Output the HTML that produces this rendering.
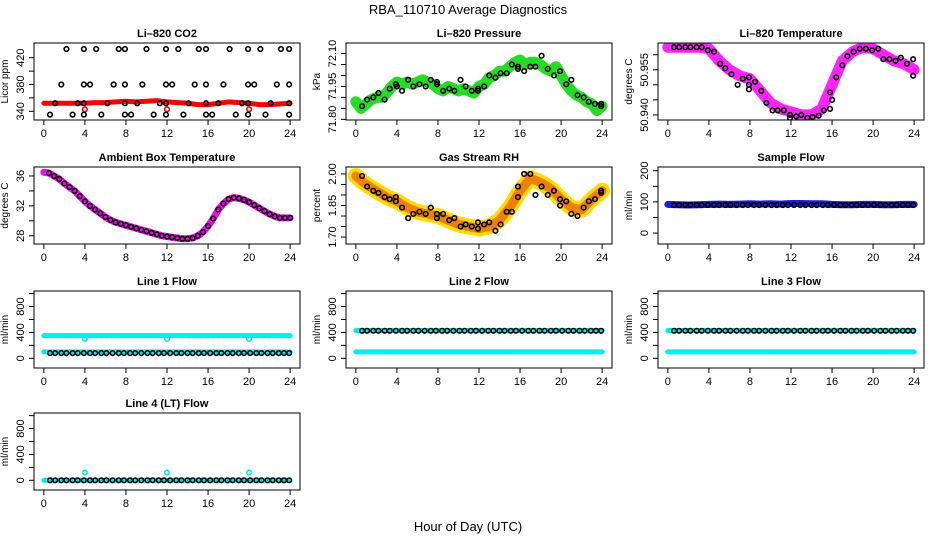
<!DOCTYPE html>
<html><head><meta charset="utf-8">
<style>
html,body{margin:0;padding:0;background:#fff;}
svg{display:block;font-family:"Liberation Sans",sans-serif;}
</style></head>
<body>
<svg id="chart" width="936" height="540" viewBox="0 0 936 540">
<text x="468" y="14" text-anchor="middle" font-size="13">RBA_110710  Average Diagnostics</text>
<text x="468" y="531" text-anchor="middle" font-size="13">Hour of Day (UTC)</text>
</svg>
<script>
// ---- data ----
const hourTicks = [0,4,8,12,16,20,24];
const hourly = [0,1,2,3,4,5,6,7,8,9,10,11,12,13,14,15,16,17,18,19,20,21,22,23,24];
const blackHours = [0.6,1.1,1.7,2.2,2.8,3.3,3.9,4.5,5.0,5.6,6.1,6.7,7.3,7.8,8.4,8.9,9.5,10.1,10.6,11.2,11.7,12.3,12.9,13.4,14.0,14.5,15.1,15.6,16.2,16.8,17.3,17.9,18.4,19.0,19.5,20.1,20.7,21.2,21.8,22.3,22.9,23.4,23.9];

const co2Band = [352,352,352,352,352,353,353,354,355,354,355,356,354,353,352,350,350,352,354,353,352,350,350,351,352];
const co2TopHours = [2.2,3.9,5.1,7.3,7.9,10.0,11.9,13.1,15.1,15.8,18.1,19.9,21.1,23.1,23.9];
const co2MidHours = [1.7,3.9,4.5,6.8,7.9,9.6,11.9,12.5,14.7,15.8,17.5,19.9,20.5,22.7,23.9];
const co2LowHours = [1.1,3.3,3.9,6.2,7.9,9.1,11.3,11.9,14.1,15.8,17.0,19.3,19.9,22.1,23.9];
const co2BotHours = [0.6,2.8,3.9,5.6,7.9,8.5,10.7,11.9,13.6,15.8,16.4,18.7,19.9,21.6,23.9];
const co2Levels = [433,380,352,335];
const co2RedHours = [4,12,20];
const co2RedValue = 343;

const presHalf = [0,0.5,1,1.5,2,2.5,3,3.5,4,4.5,5,5.5,6,6.5,7,7.5,8,8.5,9,9.5,10,10.5,11,11.5,12,12.5,13,13.5,14,14.5,15,15.5,16,16.5,17,17.5,18,18.5,19,19.5,20,20.5,21,21.5,22,22.5,23,23.5,24];
const presBand = [71.88,71.85,71.87,71.89,71.9,71.9,71.92,71.95,71.97,71.96,71.97,71.96,71.97,71.98,71.97,71.96,71.94,71.93,71.95,71.94,71.93,71.94,71.93,71.92,71.95,71.96,71.99,72.0,72.02,72.02,72.04,72.06,72.07,72.05,72.06,72.06,72.05,72.03,72.02,72.04,72.0,71.96,71.93,71.91,71.9,71.88,71.87,71.84,71.86];
const presPtHours = [0.6,1.1,1.7,2.2,2.8,3.3,3.9,4.0,4.5,5.1,5.6,6.2,6.8,7.3,7.9,7.9,8.5,9.1,9.6,10.2,10.7,11.3,11.9,11.9,12.5,13.0,13.6,14.1,14.7,15.2,15.8,15.8,16.4,17.0,17.5,18.1,18.7,19.3,19.9,20.5,21.0,21.6,22.2,22.7,23.3,23.9,23.9];
const presPts = [71.86,71.89,71.9,71.92,71.89,71.94,71.96,71.95,71.93,71.98,71.95,71.96,71.95,71.98,71.96,71.97,71.93,71.94,71.93,71.98,71.95,71.93,71.93,71.94,71.95,72.0,71.99,72.01,72.01,72.05,72.04,72.03,72.02,72.04,72.04,72.09,72.03,72.0,72.02,71.96,71.98,71.91,71.9,71.88,71.87,71.86,71.87];

const tempBand = [50.9625,50.9625,50.9625,50.9625,50.962,50.958,50.955,50.953,50.952,50.948,50.944,50.942,50.941,50.940,50.940,50.942,50.950,50.958,50.961,50.9625,50.962,50.960,50.958,50.957,50.955];
const tempPtHours = [0.6,1.1,1.7,2.2,2.8,3.3,3.9,4.5,5.1,5.6,6.2,6.8,7.3,7.9,7.9,7.9,8.5,9.1,9.6,10.2,10.7,11.3,11.9,11.9,12.5,13.0,13.6,14.1,14.7,15.2,15.8,15.8,16.0,16.4,17.0,17.5,18.1,18.7,19.3,19.9,20.5,21.0,21.6,22.2,22.7,23.3,23.9,23.9];
const tempPts = [50.9625,50.9625,50.9625,50.9625,50.9625,50.9625,50.9615,50.961,50.957,50.9555,50.9535,50.950,50.952,50.9525,50.9485,50.950,50.951,50.948,50.944,50.9415,50.9415,50.9415,50.940,50.939,50.9395,50.940,50.939,50.9393,50.9397,50.9415,50.942,50.9475,50.945,50.9525,50.9565,50.9595,50.961,50.962,50.962,50.9615,50.962,50.9585,50.9585,50.958,50.959,50.957,50.9585,50.953];

const ambHalf = presHalf;
const ambVals = [36.5,36.4,36.0,35.6,35.0,34.5,34.0,33.3,32.6,32.0,31.5,31.0,30.5,30.1,29.8,29.6,29.4,29.2,29.0,28.8,28.6,28.4,28.2,28.0,27.9,27.8,27.7,27.6,27.6,27.7,28.0,28.5,29.3,30.3,31.5,32.3,32.9,33.1,33.0,32.8,32.5,32.1,31.7,31.3,30.9,30.6,30.4,30.4,30.4];

const rhBand = [1.99,1.95,1.92,1.89,1.87,1.84,1.82,1.81,1.80,1.78,1.76,1.75,1.74,1.75,1.78,1.84,1.92,1.98,1.96,1.93,1.88,1.84,1.83,1.88,1.92];
const rhPtHours = [0.6,1.1,1.7,2.2,2.8,3.3,3.9,3.9,4.5,5.1,5.6,6.2,6.8,7.3,7.9,7.9,8.5,9.1,9.6,10.2,10.7,11.3,11.9,11.9,12.5,13.0,13.6,14.1,14.7,15.2,15.8,15.8,16.4,17.0,17.5,18.1,18.7,19.3,19.9,19.9,20.5,21.0,21.6,22.2,22.7,23.3,23.9,23.9];
const rhPts = [1.99,1.94,1.92,1.91,1.89,1.88,1.87,1.89,1.84,1.79,1.81,1.82,1.81,1.84,1.79,1.81,1.81,1.78,1.79,1.75,1.76,1.75,1.74,1.77,1.76,1.77,1.73,1.76,1.82,1.82,1.89,1.94,2.0,2.0,1.9,1.94,1.9,1.92,1.88,1.85,1.87,1.81,1.80,1.84,1.87,1.88,1.91,1.92];

const sampleFlowBand = [92,91,90,91,92,93,92,93,94,93,94,93,95,95,94,94,92,91,91,92,92,91,91,92,92];
const sampleFlowPt = 90;

const line1Levels = [350,100];
const line1Black = 80;
const line1Outlier = 300;
const line2Levels = [430,100];
const line2Black = 425;
const line3Levels = [430,100];
const line3Black = 425;
const line4Levels = [0];
const line4Black = 0;
const line4Outlier = 120;
const outlierHours = [4,12,20];

// ---- drawing ----
const NS = "http://www.w3.org/2000/svg";
const svg = document.getElementById('chart');
function mk(tag, attrs, parent){ const e=document.createElementNS(NS,tag); for(const k in attrs) e.setAttribute(k,attrs[k]); (parent||svg).appendChild(e); return e; }

const colLeft=[34,346,658], rowTop=[43,167,291,413], W=266, H=77;

function panel(col,row,name,title,ylab,ymin,ymax,ticks,labels,labelText){
  const L=colLeft[col], T=rowTop[row];
  const g=mk('g',{});
  
  
  const xs=h=>L+9.85+h*(W-19.7)/24;
  const ys=v=>T+H-(v-ymin)/(ymax-ymin)*H;
  const t=mk('text',{x:L+W/2,y:T-6,'text-anchor':'middle','font-size':'11','font-weight':'bold'},g);
  t.textContent=title;
  
  
  const yl=mk('text',{x:0,y:0,transform:`translate(${L-26},${T+H/2}) rotate(-90)`,'text-anchor':'middle','font-size':'10'},g);
  yl.textContent=ylab;
  
  
  const xa=mk('g',{},g);
  
  
  mk('line',{x1:xs(0),x2:xs(24),y1:T+H,y2:T+H,stroke:'#000'},xa);
  hourTicks.forEach(h=>{
    mk('line',{x1:xs(h),x2:xs(h),y1:T+H,y2:T+H+5,stroke:'#000'},xa);
    const tx=mk('text',{x:xs(h),y:T+H+17,'text-anchor':'middle','font-size':'11'},xa); tx.textContent=h;
  });
  const ya=mk('g',{},g);
  
  
  mk('line',{x1:L,x2:L,y1:ys(ticks[0]),y2:ys(ticks[ticks.length-1]),stroke:'#000'},ya);
  ticks.forEach(v=>mk('line',{x1:L-5,x2:L,y1:ys(v),y2:ys(v),stroke:'#000'},ya));
  labels.forEach((v,i)=>{
    const tx=mk('text',{x:0,y:0,transform:`translate(${L-10},${ys(v)}) rotate(-90)`,'text-anchor':'middle','font-size':'11'},ya);
    tx.textContent=labelText[i];
  });
  const clip='clip'+col+row;
  const cp=mk('clipPath',{id:clip},g); mk('rect',{x:L,y:T,width:W,height:H},cp);
  const plot=mk('g',{'clip-path':`url(#${clip})`},g);
  
  
  mk('rect',{x:L,y:T,width:W,height:H,fill:'none',stroke:'#000'},g);
  return {xs,ys,plot};
}
function band(p,hs,vs,color,w,name){
  const pts=hs.map((h,i)=>p.xs(h)+','+p.ys(vs[i])).join(' ');
  const e=mk('polyline',{points:pts,fill:'none',stroke:color,'stroke-width':w,'stroke-linejoin':'round','stroke-linecap':'round'},p.plot);
  
  
}
function pts(p,hs,vs,color,name,r){
  hs.forEach((h,i)=>{
    const v=Array.isArray(vs)?vs[i]:vs;
    const c=mk('circle',{cx:p.xs(h),cy:p.ys(v),r:r||2.3,fill:'none',stroke:color,'stroke-width':1.6},p.plot);
    
    
  });
}
function flat(level){ return hourly.map(()=>level); }

let p=panel(0,0,'co2','Li\u2013820 CO2','Licor ppm',327,442,[340,360,380,400,420],[340,380,420],['340','380','420']);
band(p,hourly,co2Band,'#ff0000',5,'co2-band');
pts(p,co2RedHours,co2RedValue,'#ff0000','co2-red-point');
pts(p,co2TopHours,co2Levels[0],'#000','co2-point');
pts(p,co2MidHours,co2Levels[1],'#000','co2-point');
pts(p,co2LowHours,co2Levels[2],'#000','co2-point');
pts(p,co2BotHours,co2Levels[3],'#000','co2-point');

p=panel(1,0,'pressure','Li\u2013820 Pressure','kPa',71.797,72.148,[71.80,71.85,71.90,71.95,72.00,72.05,72.10],[71.80,71.95,72.10],['71.80','71.95','72.10']);
band(p,presHalf,presBand,'#22dd22',11,'pressure-band');
pts(p,presPtHours,presPts,'#000','pressure-point');

p=panel(2,0,'li820-temp','Li\u2013820 Temperature','degrees C',50.9383,50.9639,[50.940,50.945,50.950,50.955,50.960],[50.940,50.955],['50.940','50.955']);
band(p,hourly,tempBand,'#ff22ff',11,'temp-band');
pts(p,tempPtHours,tempPts,'#000','temp-point');

p=panel(0,1,'ambient-temp','Ambient Box Temperature','degrees C',26.9,37.2,[28,30,32,34,36],[28,32,36],['28','32','36']);
band(p,ambHalf,ambVals,'#ff00ff',7,'ambient-band');
pts(p,ambHalf.slice(1),ambVals.slice(1),'#000','ambient-point');

p=panel(1,1,'rh','Gas Stream RH','percent',1.667,2.033,[1.70,1.75,1.80,1.85,1.90,1.95,2.00],[1.70,1.85,2.00],['1.70','1.85','2.00']);
band(p,hourly,rhBand,'#ffdd00',16,'rh-band-outer');
band(p,hourly,rhBand,'#f08000',9,'rh-band-inner');
pts(p,rhPtHours,rhPts,'#000','rh-point');

p=panel(2,1,'sample-flow','Sample Flow','ml/min',-35,212,[0,50,100,150,200],[0,100,200],['0','100','200']);
band(p,hourly,sampleFlowBand,'#1a1aee',7,'sample-flow-band');
pts(p,blackHours,sampleFlowPt,'#000','sample-flow-point');

const flowTicks=[0,200,400,600,800,1000], flowLabels=[0,400,800], flowText=['0','400','800'];
p=panel(0,2,'line1-flow','Line 1 Flow','ml/min',-150,1040,flowTicks,flowLabels,flowText);
line1Levels.forEach(l=>band(p,hourly,flat(l),'#00eeee',5,'line1-band'));
pts(p,outlierHours,line1Outlier,'#00eeee','line1-outlier');
pts(p,blackHours,line1Black,'#000','line1-point');
p=panel(1,2,'line2-flow','Line 2 Flow','ml/min',-150,1040,flowTicks,flowLabels,flowText);
line2Levels.forEach(l=>band(p,hourly,flat(l),'#00eeee',5,'line2-band'));
pts(p,blackHours,line2Black,'#000','line2-point');
p=panel(2,2,'line3-flow','Line 3 Flow','ml/min',-150,1040,flowTicks,flowLabels,flowText);
line3Levels.forEach(l=>band(p,hourly,flat(l),'#00eeee',5,'line3-band'));
pts(p,blackHours,line3Black,'#000','line3-point');
p=panel(0,3,'line4-flow','Line 4 (LT) Flow','ml/min',-150,1040,flowTicks,flowLabels,flowText);
line4Levels.forEach(l=>band(p,hourly,flat(l),'#00eeee',5,'line4-band'));
pts(p,outlierHours,line4Outlier,'#00eeee','line4-outlier');
pts(p,blackHours,line4Black,'#000','line4-point');
</script>
</body></html>
